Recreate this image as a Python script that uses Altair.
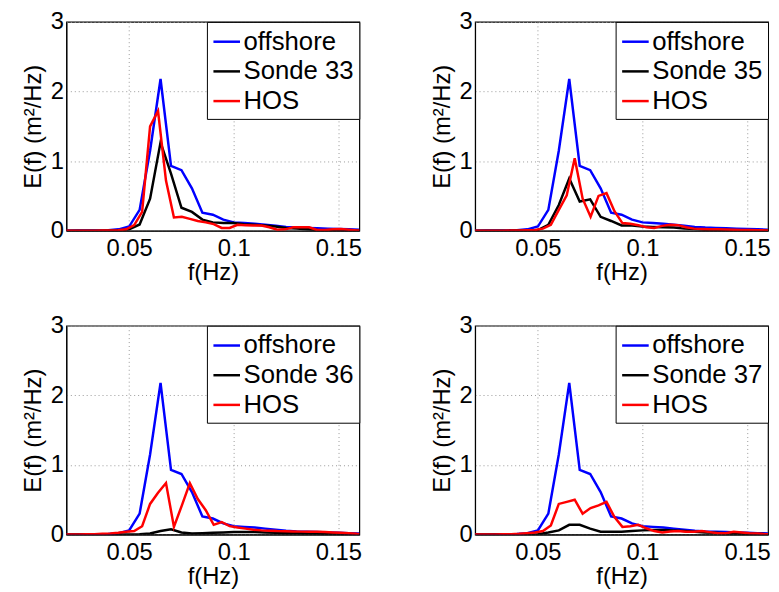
import altair as alt
import pandas as pd

FONT = "Liberation Sans"

# offshore / sonde frequency grid (Hz)
freq = [0.020, 0.025, 0.030, 0.035, 0.040, 0.045, 0.050, 0.055, 0.060, 0.065,
        0.070, 0.075, 0.080, 0.085, 0.090, 0.095, 0.100, 0.105, 0.110, 0.115,
        0.120, 0.125, 0.130, 0.135, 0.140, 0.145, 0.150, 0.155, 0.160]

offshore = [0.0, 0.002, 0.003, 0.005, 0.008, 0.02, 0.06, 0.30, 1.15, 2.18,
            0.93, 0.87, 0.61, 0.26, 0.23, 0.16, 0.12, 0.11, 0.10, 0.085,
            0.07, 0.055, 0.045, 0.04, 0.035, 0.03, 0.025, 0.02, 0.015]

sonde33 = [0, 0, 0, 0, 0.002, 0.005, 0.02, 0.09, 0.46, 1.27,
           0.82, 0.33, 0.27, 0.16, 0.12, 0.11, 0.11, 0.095, 0.085, 0.075,
           0.06, 0.04, 0.03, 0.02, 0.01, 0.008, 0.006, 0.005, 0.004]
sonde35 = [0, 0, 0, 0, 0.002, 0.005, 0.01, 0.085, 0.37, 0.75,
           0.42, 0.45, 0.20, 0.14, 0.075, 0.075, 0.06, 0.055, 0.05, 0.045,
           0.03, 0.025, 0.015, 0.012, 0.01, 0.008, 0.006, 0.005, 0.004]
sonde36 = [0, 0, 0, 0, 0, 0, 0.002, 0.005, 0.015, 0.05,
           0.075, 0.03, 0.015, 0.02, 0.025, 0.03, 0.035, 0.035, 0.035, 0.03,
           0.025, 0.02, 0.017, 0.015, 0.012, 0.01, 0.008, 0.006, 0.005]
sonde37 = [0, 0, 0, 0, 0, 0, 0.005, 0.03, 0.06, 0.14,
           0.14, 0.085, 0.04, 0.04, 0.04, 0.05, 0.06, 0.065, 0.065, 0.06,
           0.05, 0.04, 0.03, 0.025, 0.02, 0.015, 0.01, 0.008, 0.005]

# HOS frequency grid (Hz)
hos_freq = [0.0182, 0.0220, 0.0258, 0.0296, 0.0334, 0.0372, 0.0410, 0.0448,
            0.0486, 0.0524, 0.0562, 0.0600, 0.0638, 0.0676, 0.0714, 0.0752,
            0.0790, 0.0828, 0.0866, 0.0904, 0.0942, 0.0980, 0.1018, 0.1056,
            0.1094, 0.1132, 0.1170, 0.1208, 0.1246, 0.1284, 0.1322, 0.1360,
            0.1398, 0.1436, 0.1474, 0.1512, 0.1550, 0.1588, 0.1626]

hos33 = [0, 0, 0, 0, 0.001, 0.002, 0.004, 0.008,
         0.02, 0.08, 0.27, 1.5, 1.72, 0.72, 0.19, 0.20,
         0.17, 0.14, 0.12, 0.095, 0.04, 0.04, 0.085, 0.08,
         0.076, 0.076, 0.05, 0.015, 0.02, 0.05, 0.05, 0.05,
         0.01, 0.01, 0.02, 0.025, 0.015, 0.003, 0.0]
hos35 = [0, 0, 0, 0, 0.001, 0.002, 0.004, 0.006,
         0.01, 0.03, 0.085, 0.30, 0.51, 1.04, 0.46, 0.20,
         0.50, 0.54, 0.28, 0.11, 0.10, 0.08, 0.05, 0.04,
         0.07, 0.085, 0.08, 0.05, 0.03, 0.025, 0.02, 0.02,
         0.018, 0.015, 0.012, 0.01, 0.008, 0.005, 0.003]
hos36 = [0, 0, 0.002, 0.003, 0.005, 0.01, 0.015, 0.025,
         0.04, 0.05, 0.12, 0.44, 0.60, 0.74, 0.11, 0.42,
         0.74, 0.51, 0.35, 0.14, 0.18, 0.12, 0.10, 0.085,
         0.07, 0.06, 0.055, 0.05, 0.048, 0.045, 0.042, 0.04,
         0.04, 0.035, 0.03, 0.025, 0.02, 0.01, 0.005]
hos37 = [0, 0, 0, 0.002, 0.004, 0.006, 0.01, 0.02,
         0.03, 0.05, 0.13, 0.44, 0.47, 0.50, 0.30, 0.38,
         0.42, 0.47, 0.25, 0.11, 0.12, 0.14, 0.09, 0.05,
         0.03, 0.045, 0.05, 0.04, 0.04, 0.05, 0.035, 0.02,
         0.02, 0.04, 0.03, 0.02, 0.015, 0.005, 0.003]

x_ticks = [0.05, 0.1, 0.15]
y_ticks = [0, 1, 2, 3]
colors = ["#0000ff", "#000000", "#ff0000"]


def panel(sonde_name, sonde_vals, hos_vals):
    rows = []
    for f, v in zip(freq, offshore):
        rows.append({"f": f, "E": v, "series": "offshore", "k": 0})
    for f, v in zip(freq, sonde_vals):
        rows.append({"f": f, "E": v, "series": sonde_name, "k": 1})
    for f, v in zip(hos_freq, hos_vals):
        rows.append({"f": f, "E": v, "series": "HOS", "k": 2})
    df = pd.DataFrame(rows)
    domain = ["offshore", sonde_name, "HOS"]
    return alt.Chart(df).mark_line(strokeWidth=2.5, clip=True).encode(
        x=alt.X("f:Q", scale=alt.Scale(domain=[0.02, 0.16], nice=False, zero=False),
                axis=alt.Axis(values=x_ticks, format=".2~f", title="f(Hz)",
                              labelPadding=6, titlePadding=0)),
        y=alt.Y("E:Q", scale=alt.Scale(domain=[0, 3], nice=False),
                axis=alt.Axis(values=y_ticks, title="E(f) (m²/Hz)",
                              labelPadding=3, titlePadding=5)),
        color=alt.Color("series:N",
                        scale=alt.Scale(domain=domain, range=colors),
                        sort=domain,
                        legend=alt.Legend(title=None, orient="top-right", offset=0,
                                          strokeColor="black", fillColor="white",
                                          padding=5, symbolType="stroke",
                                          symbolSize=720, symbolStrokeWidth=2.5,
                                          labelFontSize=26, labelFont=FONT,
                                          labelColor="black", labelOffset=2,
                                          rowPadding=2, cornerRadius=0)),
        detail="k:O",
    ).properties(width=296, height=211)


p1 = panel("Sonde 33", sonde33, hos33)
p2 = panel("Sonde 35", sonde35, hos35)
p3 = panel("Sonde 36", sonde36, hos36)
p4 = panel("Sonde 37", sonde37, hos37)

chart = alt.concat(p1, p2, p3, p4, columns=2, spacing={"row": 96, "column": 117},
                   bounds="flush").resolve_scale(
    color="independent").resolve_legend(color="independent").properties(
    padding={"left": 13, "top": -2, "right": 0, "bottom": 0},
    background="white",
).configure_axis(
    labelFont=FONT, labelFontSize=24, labelColor="black",
    titleFont=FONT, titleFontSize=24, titleFontWeight="normal", titleColor="black",
    domainColor="black", domainWidth=1, ticks=False,
    gridColor="#999999", gridDash=[1, 3], gridWidth=1,
).configure_view(stroke="black", strokeWidth=1.2)

chart.save("out.html", embed_options={"renderer": "svg", "actions": False})
